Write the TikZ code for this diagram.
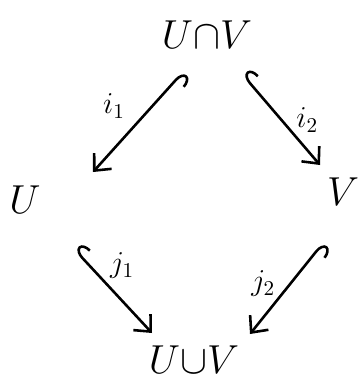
\documentclass[tikz,border=0pt]{standalone}
\usepackage{amsmath}
\usetikzlibrary{arrows.meta}
\usetikzlibrary{calc}

\tikzset{
  obj/.style={font=\LARGE, scale=2.0, transform shape, inner sep=0pt},
  lbl/.style={font=\Large, scale=1.8, transform shape, inner sep=1pt},
  incl/.style={line width=2.2pt, line cap=round, {Hooks[right,length=9pt,width=20pt]}-{Straight Barb[length=11pt,width=20pt]}},
}

\begin{document}
\begin{tikzpicture}[x=0.03cm,y=-0.03cm]
        % Frame
        \useasboundingbox (0,0) rectangle (361,383);

        % Spaces
        \node[obj] (cap) at (207,35) {$U{\cap}V$};
        \node[obj] (U) at (25,200) {$U$};
        \node[obj] (V) at (343,192) {$V$};
        \node[obj] (cup) at (194,360) {$U{\cup}V$};

        % Inclusions
        \draw[incl] ([shift={(-24,37)}]cap.center) -- node[lbl, pos=0.55, above left=2pt] {$i_1$} ([shift={(68,-28)}]U.center);
        \draw[incl] ([shift={(36,40)}]cap.center) -- node[lbl, pos=0.5, right=5pt] {$i_2$} ([shift={(-23,-27)}]V.center);
        \draw[incl] ([shift={(50,50)}]U.center) -- node[lbl, pos=0.4, above right=0pt] {$j_1$} ([shift={(-42,-27)}]cup.center);
        \draw[incl] ([shift={(-20,51)}]V.center) -- node[lbl, pos=0.45, left=5pt] {$j_2$} ([shift={(56,-26)}]cup.center);
      \end{tikzpicture}
\end{document}
